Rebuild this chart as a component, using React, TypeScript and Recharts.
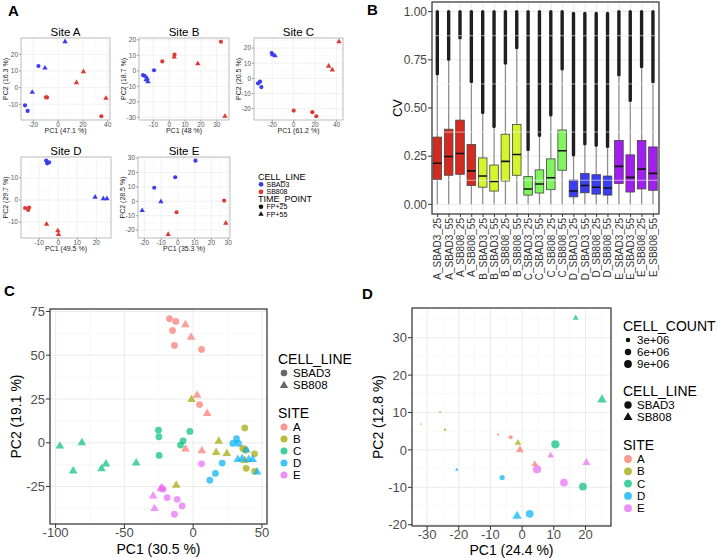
import React from 'react';
import { ScatterChart, Scatter, ComposedChart, Bar, XAxis, YAxis, CartesianGrid, ReferenceLine } from 'recharts';

const FONT = '"Liberation Sans", Arial, Helvetica, sans-serif';

// ---------- A: PCA inside each site ----------
const SITE_NAMES = ['Site A', 'Site B', 'Site C', 'Site D', 'Site E'];
const SITE_PC1 = ['PC1 (47.1 %)', 'PC1 (48 %)', 'PC1 (61.2 %)', 'PC1 (49.5 %)', 'PC1 (35.3 %)'];
const SITE_PC2 = ['PC2 (16.3 %)', 'PC2 (18.7 %)', 'PC2 (20.5 %)', 'PC2 (29.7 %)', 'PC2 (28.5 %)'];
const SITE_XTICKS = [[-20, 0, 20, 40], [-10, 0, 10, 20, 30], [-20, 0, 20, 40], [-10, 0, 10, 20], [-20, -10, 0, 10, 20, 30]];
const SITE_YTICKS = [[-10, 0, 10, 20], [-30, -20, -10, 0, 10, 20], [-20, -10, 0, 10, 20], [-10, 0, 10], [-20, -10, 0, 10, 20, 30]];

// [PC1, PC2] per site A..E
const SBAD3_FP25 = [
  [[-15.9, 13], [-26.7, -10.6], [-24.6, -14]],
  [[-9.6, 0.4], [-16.5, -2.8], [-15.4, -3.3]],
  [[-20.5, 16.7], [-31.4, -2.2], [-33.2, -3.3], [-30.1, -5.8]],
  [[-6.3, 17.8], [-5.8, 16.6], [-4.8, 17.0]],
  [[10.5, 28.2], [-1.6, 16.7], [-14.1, 9.4]],
];
const SBAD3_FP55 = [
  [[5.6, 27.6], [-10.6, 11.8], [-20.9, -2.8]],
  [[-14, -4.8], [-13.4, -7], [-14.6, -5.7]],
  [[-19.5, 15.6], [-17.4, 14.9]],
  [[19.4, 1.3], [23.7, 0.6], [25.6, 0.6]],
  [[-10.1, -0.2], [-21.3, -6.4]],
];
const SB808_FP25 = [
  [[-9.8, -5.8], [-9.0, -5.9], [34.9, -17.2]],
  [[32.6, 18.8], [3.3, 10.5], [-4.4, 6.1]],
  [[0, -21.3], [17.4, -22.4], [21.1, -25.1]],
  [[-17.4, -3.6], [-15.8, -4.5], [-15.3, -3.4]],
  [[27.6, 0.5], [-0.8, -7.6]],
];
const SB808_FP55 = [
  [[20.4, 9.6], [14.8, 3], [38.6, -6.4]],
  [[3.1, 9], [18, 4.6], [35.1, -29.3]],
  [[42.2, 24.2], [32.6, 8], [36, 5.6]],
  [[-6.1, -10.9], [-0.2, -13.9], [0.2, -15.5]],
  [[28.6, -15.1], [-5.8, -22.9]],
];

// ---------- B: CV boxplots ----------
const CV_SAMPLES = [
  'A_SBAD3_25', 'A_SBAD3_55', 'A_SB808_25', 'A_SB808_55',
  'B_SBAD3_25', 'B_SBAD3_55', 'B_SB808_25', 'B_SB808_55',
  'C_SBAD3_25', 'C_SBAD3_55', 'C_SB808_25', 'C_SB808_55',
  'D_SBAD3_25', 'D_SBAD3_55', 'D_SB808_25', 'D_SB808_55',
  'E_SBAD3_25', 'E_SBAD3_55', 'E_SB808_25', 'E_SB808_55',
];
const CV_LO = [0, 0, 0, 0, 0, 0, 0, 0, 0, 0, 0, 0, 0, 0, 0, 0, 0, 0, 0, 0];
const CV_Q1 = [0.129, 0.151, 0.156, 0.098, 0.089, 0.069, 0.121, 0.151, 0.048, 0.059, 0.076, 0.177, 0.039, 0.060, 0.053, 0.048, 0.108, 0.064, 0.080, 0.073];
const CV_MED = [0.213, 0.248, 0.264, 0.174, 0.147, 0.119, 0.223, 0.259, 0.080, 0.106, 0.138, 0.278, 0.069, 0.098, 0.089, 0.085, 0.197, 0.140, 0.183, 0.161];
const CV_Q3 = [0.349, 0.390, 0.437, 0.311, 0.241, 0.204, 0.364, 0.414, 0.144, 0.179, 0.236, 0.386, 0.126, 0.160, 0.154, 0.147, 0.332, 0.257, 0.332, 0.298];
const CV_WHISKER = [0.668, 0.744, 0.855, 0.628, 0.468, 0.395, 0.724, 0.804, 0.276, 0.349, 0.455, 0.693, 0.247, 0.305, 0.298, 0.291, 0.663, 0.530, 0.705, 0.628];
const CV_OUTMAX = [1, 1, 1, 1, 1, 1, 1, 1, 1, 1, 1, 1, 0.99, 0.99, 0.99, 0.99, 1, 1, 1, 1];
const CV_TICKS = [0, 0.25, 0.5, 0.75, 1];
const BOX_FILL = ['#d42a1f', '#d4f52c', '#80f55e', '#3a3df5', '#a21ff0'];

// ---------- C: PCA of all samples ----------
const ALL_SBAD3 = [
  [[-17.2, 70.8], [-12.6, 69.3], [-15.0, 64.1], [-13.6, 55.6], [6.1, 53.3], [4.6, 21.8]],
  [[37.5, 8.5], [36.1, -3.2], [38.1, -4.2], [44.6, -6.3], [38.5, -14.6], [44.6, -16.3]],
  [[-25.2, 7.2], [-24.9, 3.4], [-2.4, 6.5], [-7.3, 1.1], [-9.2, -1.3], [-24.7, -7.2]],
  [[31.5, 2.3], [28.8, -0.4], [32.9, -0.4], [21.1, -11.6], [16.2, -17.5], [12.1, -21.4]],
  [[6.1, -12.0], [-18.9, -31.3], [-11.6, -32.3], [-8.0, -36.1], [-13.6, -40.8], [-22.0, -26.5]],
];
const ALL_SB808 = [
  [[-5.6, 67.4], [-1.5, 60.3], [2.9, 27.1], [10.2, 16.7], [-5.6, -3.6], [6.3, -4.6]],
  [[-1.2, 24.7], [18.6, 0.9], [16.7, -5.5], [24.5, -6.1], [37.5, -10.1], [-12.3, -24.3]],
  [[-96.9, -1.9], [-80.9, 0], [-87.2, -16.1], [-66.6, -14.8], [-63.4, -12.1], [-41.4, -11.6]],
  [[38.7, -4.2], [32.4, -9.5], [35.6, -9.1], [40.4, -9.5], [43.3, -9.5], [46.5, -16.7]],
  [[-22.5, -25.6], [-23.7, -26.2], [-29.1, -30.4], [-28.1, -37.6]],
];
const ALL_XTICKS = [-100, -50, 0, 50];
const ALL_YTICKS = [-25, 0, 25, 50, 75];

// ---------- D: PCA of pooled samples, [PC1, PC2, cell count] ----------
const POOL_SBAD3 = [
  [[-7.6, 4.1, 0.8e6], [-3.6, 3.4, 2.5e6]],
  [[-25.9, 10.2, 0.5e6], [-31.9, 6.9, 0.4e6]],
  [[10.5, 1.5, 10e6], [19.2, -9.8, 9e6]],
  [[-6.3, -7.4, 4e6], [2.4, -17.1, 9e6]],
  [[4.7, -5.2, 10e6], [13.2, -8.75, 9e6]],
];
const POOL_SB808 = [
  [[-0.7, 0, 7e6], [4.0, -3.8, 5e6]],
  [[-24.3, 5.4, 1.2e6], [-1.3, 1.9, 5e6]],
  [[16.9, 35.3, 4e6], [25.2, 13.4, 10e6]],
  [[-20.6, -5.3, 1.5e6], [-1.6, -17.7, 10e6]],
  [[9.0, -1.5, 5e6], [20.3, -3.4, 7e6]],
];
const POOL_XTICKS = [-30, -20, -10, 0, 10, 20];
const POOL_YTICKS = [-20, -10, 0, 10, 20, 30];
const COUNT_BREAKS = [3e6, 6e6, 9e6];
const COUNT_LABELS = ['3e+06', '6e+06', '9e+06'];

const SITES = ['A', 'B', 'C', 'D', 'E'];
const SITE_COLORS = ['#F8766D', '#A3A500', '#00BF7D', '#00B0F6', '#E76BF3'];
const BLUE = '#3c3cf2';
const RED = '#dc3b33';

// layout of the five small panels (plot boxes in page px)
const SITE_BOX = [
  { l: 21, r: 110, t: 38, b: 120 },
  { l: 139, r: 229, t: 38, b: 120 },
  { l: 254, r: 343, t: 38, b: 120 },
  { l: 21, r: 111, t: 157, b: 238 },
  { l: 138, r: 230, t: 157, b: 238 },
];

function expand(vals: number[], f = 0.05): [number, number] {
  const lo = Math.min(...vals), hi = Math.max(...vals);
  const d = (hi - lo) * f;
  return [lo - d, hi + d];
}

function minorsOf(ticks: number[], dom: [number, number]) {
  const step = ticks[1] - ticks[0];
  const out: number[] = [];
  for (let v = ticks[0] - step / 2; v <= dom[1]; v += step) if (v >= dom[0]) out.push(v);
  return out;
}

const toPts = (arr: number[][]) => arr.map(([x, y, c]) => ({ x, y, c }));
const countR = (c: number) => 1.3 * Math.sqrt(c / 1e6);

function Tri({ cx, cy, side, fill, op = 1 }: any) {
  const h = (side * Math.sqrt(3)) / 2;
  return <polygon points={`${cx},${cy - (2 * h) / 3} ${cx - side / 2},${cy + h / 3} ${cx + side / 2},${cy + h / 3}`} fill={fill} fillOpacity={op} />;
}

function mark(kind: string, fill: string, size: number, op = 1, byCount = false) {
  return (p: any) => {
    const { cx, cy, payload } = p;
    if (!Number.isFinite(cx) || !Number.isFinite(cy)) return <g />;
    const r = byCount ? countR(payload.c) : size;
    if (kind === 'circle') return <circle cx={cx} cy={cy} r={r} fill={fill} fillOpacity={op} />;
    return <Tri cx={cx} cy={cy} side={byCount ? r * 2.3 : size} fill={fill} op={op} />;
  };
}

function SitePanel({ i }: { i: number }) {
  const b = SITE_BOX[i];
  const groups = [
    { pts: SBAD3_FP25[i], color: BLUE, kind: 'circle' },
    { pts: SBAD3_FP55[i], color: BLUE, kind: 'triangle' },
    { pts: SB808_FP25[i], color: RED, kind: 'circle' },
    { pts: SB808_FP55[i], color: RED, kind: 'triangle' },
  ];
  const all = groups.flatMap((g) => g.pts);
  const xd = expand(all.map((p) => p[0]));
  const yd = expand(all.map((p) => p[1]));
  const yW = 21, xH = 12, mt = 5, mr = 8;
  const w = b.r - b.l, h = b.b - b.t;
  const tick = { fontSize: 6.5, fill: '#555', fontFamily: FONT };
  return (
    <div style={{ position: 'absolute', left: b.l - yW, top: b.t - mt }}>
      <ScatterChart width={yW + w + mr} height={mt + h + xH} margin={{ top: mt, right: mr, bottom: 0, left: 0 }}>
        <CartesianGrid stroke="#ebebeb" strokeWidth={0.7} />
        {minorsOf(SITE_XTICKS[i], xd).map((v) => <ReferenceLine key={'mx' + v} x={v} stroke="#f5f5f5" strokeWidth={0.5} />)}
        {minorsOf(SITE_YTICKS[i], yd).map((v) => <ReferenceLine key={'my' + v} y={v} stroke="#f5f5f5" strokeWidth={0.5} />)}
        <XAxis type="number" dataKey="x" domain={xd} ticks={SITE_XTICKS[i]} interval={0} height={xH} tickSize={2} tickMargin={0} axisLine={false} tickLine={{ stroke: '#999' }} tick={tick} allowDataOverflow />
        <YAxis type="number" dataKey="y" domain={yd} ticks={SITE_YTICKS[i]} interval={0} width={yW} tickSize={2} tickMargin={1} axisLine={false} tickLine={{ stroke: '#999' }} tick={tick} allowDataOverflow />
        {groups.map((g, k) => (
          <Scatter key={k} data={toPts(g.pts)} shape={mark(g.kind, g.color, g.kind === 'circle' ? 2.1 : 5.4)} isAnimationActive={false} />
        ))}
      </ScatterChart>
    </div>
  );
}

function BoxGlyph(p: any) {
  const { x, y, width, height, payload } = p;
  if (![x, y, width, height].every(Number.isFinite)) return <g />;
  const top = Math.min(y, y + height), bot = Math.max(y, y + height);
  const lo = payload.lo, hi = payload.out;
  const py = (v: number) => bot - ((bot - top) * (v - lo)) / (hi - lo);
  const cx = x + width / 2;
  return (
    <g>
      <rect x={cx - 1.7} y={py(payload.out) - 1.7} width={3.4} height={py(payload.wh) - py(payload.out) + 1.7} rx={1.7} fill="#1e1e1e" />
      <line x1={cx} x2={cx} y1={py(payload.wh)} y2={py(payload.q3)} stroke="#8c8c8c" strokeWidth={1.2} />
      <line x1={cx} x2={cx} y1={py(payload.q1)} y2={py(lo)} stroke="#8c8c8c" strokeWidth={1.2} />
      <rect x={x} y={py(payload.q3)} width={width} height={py(payload.q1) - py(payload.q3)} fill={payload.color} stroke="#444" strokeWidth={0.8} />
      <line x1={x} x2={x + width} y1={py(payload.med)} y2={py(payload.med)} stroke="#111" strokeWidth={1.6} />
    </g>
  );
}

function RotTick(p: any) {
  const { x, y, payload } = p;
  return (
    <text x={x} y={y} transform={`rotate(-90 ${x} ${y})`} textAnchor="end" dy="0.35em" fontSize={10} fill="#333" fontFamily={FONT}>
      {payload.value}
    </text>
  );
}

function CvPanel() {
  const rows = CV_SAMPLES.map((name, i) => ({
    name, lo: CV_LO[i], q1: CV_Q1[i], med: CV_MED[i], q3: CV_Q3[i], wh: CV_WHISKER[i], out: CV_OUTMAX[i],
    color: BOX_FILL[SITES.indexOf(name[0])],
  }));
  return (
    <div style={{ position: 'absolute', left: 400, top: 0 }}>
      <ComposedChart width={318} height={289} data={rows} margin={{ top: 2, right: 59, bottom: 0, left: 0 }}>
        <CartesianGrid stroke="#ebebeb" />
        {[0.125, 0.375, 0.625, 0.875].map((v) => <ReferenceLine key={v} y={v} stroke="#f5f5f5" strokeWidth={0.6} />)}
        <XAxis dataKey="name" type="category" interval={0} height={75} tickSize={3} tickMargin={1} axisLine={false} tickLine={{ stroke: '#333' }} tick={<RotTick />} />
        <YAxis type="number" domain={[-0.05, 1.05]} ticks={CV_TICKS} interval={0} width={32} tickSize={4} tickMargin={1} axisLine={false} tickLine={{ stroke: '#333' }} tickFormatter={(v: number) => v.toFixed(2)} tick={{ fontSize: 12, fill: '#444', fontFamily: FONT }} allowDataOverflow />
        <Bar dataKey={(d: any) => [d.lo, d.out]} barSize={8.6} shape={(props: any) => <BoxGlyph {...props} />} isAnimationActive={false} />
      </ComposedChart>
    </div>
  );
}

function PcaPanel({ left, top, yW, w, h, mt, mr, sbad3, sb808, xTicks, yTicks, sized }: any) {
  const all = [...sbad3.flat(), ...sb808.flat()];
  const xd = expand(all.map((p: number[]) => p[0]));
  const yd = expand(all.map((p: number[]) => p[1]));
  const tick = { fontSize: 13, fill: '#4d4d4d', fontFamily: FONT };
  return (
    <div style={{ position: 'absolute', left, top }}>
      <ScatterChart width={yW + w + mr} height={mt + h + 20} margin={{ top: mt, right: mr, bottom: 0, left: 0 }}>
        <CartesianGrid stroke="#ebebeb" />
        {minorsOf(xTicks, xd).map((v) => <ReferenceLine key={'mx' + v} x={v} stroke="#f4f4f4" strokeWidth={0.6} />)}
        {minorsOf(yTicks, yd).map((v) => <ReferenceLine key={'my' + v} y={v} stroke="#f4f4f4" strokeWidth={0.6} />)}
        <XAxis type="number" dataKey="x" domain={xd} ticks={xTicks} interval={0} height={20} tickSize={4} tickMargin={0} axisLine={false} tickLine={{ stroke: '#333' }} tick={tick} allowDataOverflow />
        <YAxis type="number" dataKey="y" domain={yd} ticks={yTicks} interval={0} width={yW} tickSize={4} tickMargin={1} axisLine={false} tickLine={{ stroke: '#333' }} tick={tick} allowDataOverflow />
        {SITES.map((s, k) => (
          <Scatter key={'c' + s} data={toPts(sbad3[k])} shape={mark('circle', SITE_COLORS[k], 3.4, 0.7, sized)} isAnimationActive={false} />
        ))}
        {SITES.map((s, k) => (
          <Scatter key={'t' + s} data={toPts(sb808[k])} shape={mark('triangle', SITE_COLORS[k], 8.6, 0.7, sized)} isAnimationActive={false} />
        ))}
      </ScatterChart>
    </div>
  );
}

function Txt({ x, y, size, children, anchor = 'middle', rot = false, weight = 400, fill = '#000' }: any) {
  return (
    <text x={x} y={y} fontSize={size} fontFamily={FONT} fontWeight={weight} fill={fill} textAnchor={anchor} dominantBaseline="central" transform={rot ? `rotate(-90 ${x} ${y})` : undefined}>
      {children}
    </text>
  );
}

function Overlay() {
  return (
    <svg width={718} height={558} style={{ position: 'absolute', left: 0, top: 0, pointerEvents: 'none' }}>
      {/* panel letters */}
      <Txt x={8} y={10} size={15} weight={700} anchor="start">A</Txt>
      <Txt x={367} y={9} size={15} weight={700} anchor="start">B</Txt>
      <Txt x={4} y={290} size={15} weight={700} anchor="start">C</Txt>
      <Txt x={362} y={293} size={15} weight={700} anchor="start">D</Txt>

      {/* A: small panels */}
      {SITE_BOX.map((b, i) => (
        <g key={i}>
          <rect x={b.l} y={b.t} width={b.r - b.l} height={b.b - b.t} fill="none" stroke="#b3b3b3" strokeWidth={0.8} />
          <Txt x={(b.l + b.r) / 2} y={b.t - 6.5} size={11.5}>{SITE_NAMES[i]}</Txt>
          <Txt x={(b.l + b.r) / 2} y={b.b + 10} size={7} fill="#222">{SITE_PC1[i]}</Txt>
          <Txt x={b.l - 16} y={(b.t + b.b) / 2} size={7} fill="#222" rot>{SITE_PC2[i]}</Txt>
        </g>
      ))}
      <Txt x={258} y={177} size={9} anchor="start">CELL_LINE</Txt>
      <circle cx={261} cy={184.3} r={2.4} fill={BLUE} />
      <Txt x={266.5} y={184.3} size={7} anchor="start">SBAD3</Txt>
      <circle cx={261} cy={191.8} r={2.4} fill={RED} />
      <Txt x={266.5} y={191.8} size={7} anchor="start">SB808</Txt>
      <Txt x={258} y={199.3} size={9} anchor="start">TIME_POINT</Txt>
      <circle cx={261} cy={206.8} r={2.3} fill="#111" />
      <Txt x={266.5} y={206.8} size={7} anchor="start">FP+25</Txt>
      <Tri cx={261} cy={214.3} side={5.4} fill="#111" />
      <Txt x={266.5} y={214} size={7} anchor="start">FP+55</Txt>

      {/* B */}
      <rect x={432} y={2} width={227} height={212} fill="none" stroke="#333" strokeWidth={1.2} />
      <Txt x={397} y={108} size={13} rot>CV</Txt>

      {/* C */}
      <rect x={50} y={309} width={217} height={215} fill="none" stroke="#333" strokeWidth={1.2} />
      <Txt x={158.5} y={548.5} size={14}>PC1 (30.5 %)</Txt>
      <Txt x={16} y={416.5} size={14} rot>PC2 (19.1 %)</Txt>
      <Txt x={278} y={359} size={14} anchor="start">CELL_LINE</Txt>
      <circle cx={284} cy={373} r={3.3} fill="#4d4d4d" fillOpacity={0.85} />
      <Txt x={293} y={373} size={11.5} anchor="start">SBAD3</Txt>
      <Tri cx={284} cy={385.5} side={8.4} fill="#4d4d4d" op={0.85} />
      <Txt x={293} y={385} size={11.5} anchor="start">SB808</Txt>
      <Txt x={278} y={413} size={14} anchor="start">SITE</Txt>
      {SITES.map((s, k) => (
        <g key={s}>
          <circle cx={284} cy={427 + k * 12} r={3.5} fill={SITE_COLORS[k]} fillOpacity={0.75} />
          <Txt x={293} y={427 + k * 12} size={11.5} anchor="start">{s}</Txt>
        </g>
      ))}

      {/* D */}
      <rect x={412} y={308} width={199} height={218} fill="none" stroke="#333" strokeWidth={1.2} />
      <Txt x={511.5} y={550} size={14}>PC1 (24.4 %)</Txt>
      <Txt x={378} y={417} size={14} rot>PC2 (12.8 %)</Txt>
      <Txt x={623} y={326} size={14} anchor="start">CELL_COUNT</Txt>
      {COUNT_BREAKS.map((c, k) => (
        <g key={c}>
          <circle cx={628} cy={340 + k * 12} r={countR(c)} fill="#111" />
          <Txt x={637} y={340 + k * 12} size={11.5} anchor="start">{COUNT_LABELS[k]}</Txt>
        </g>
      ))}
      <Txt x={623} y={391} size={14} anchor="start">CELL_LINE</Txt>
      <circle cx={628} cy={405} r={3.7} fill="#111" />
      <Txt x={637} y={405} size={11.5} anchor="start">SBAD3</Txt>
      <Tri cx={628} cy={417.5} side={9} fill="#111" />
      <Txt x={637} y={417} size={11.5} anchor="start">SB808</Txt>
      <Txt x={623} y={445} size={14} anchor="start">SITE</Txt>
      {SITES.map((s, k) => (
        <g key={s}>
          <circle cx={628} cy={459 + k * 12.3} r={3.9} fill={SITE_COLORS[k]} fillOpacity={0.75} />
          <Txt x={637} y={459 + k * 12.3} size={11.5} anchor="start">{s}</Txt>
        </g>
      ))}
    </svg>
  );
}

export default function App() {
  return (
    <div style={{ position: 'absolute', left: 0, top: 0, width: 718, height: 558, background: '#fff', overflow: 'hidden', fontFamily: FONT }}>
      {SITE_BOX.map((_, i) => <SitePanel key={i} i={i} />)}
      <CvPanel />
      <PcaPanel left={0} top={300} yW={50} w={217} h={215} mt={9} mr={10} sbad3={ALL_SBAD3} sb808={ALL_SB808} xTicks={ALL_XTICKS} yTicks={ALL_YTICKS} sized={false} />
      <PcaPanel left={360} top={300} yW={52} w={199} h={218} mt={8} mr={5} sbad3={POOL_SBAD3} sb808={POOL_SB808} xTicks={POOL_XTICKS} yTicks={POOL_YTICKS} sized />
      <Overlay />
    </div>
  );
}
